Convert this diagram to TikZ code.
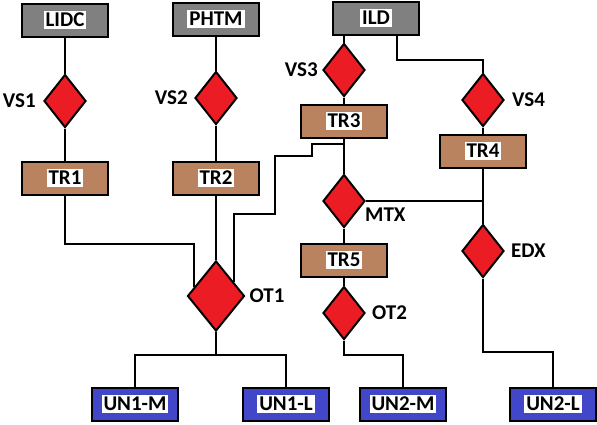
\documentclass[tikz,border=0pt]{standalone}
\usepackage{fontspec}
\setmainfont{Carlito}
\usetikzlibrary{positioning, shapes.geometric, calc}

\definecolor{srcgray}{RGB}{128,128,128}
\definecolor{trbrown}{RGB}{185,131,96}
\definecolor{unblue}{RGB}{66,70,200}
\definecolor{vsred}{RGB}{236,28,36}
\setlength{\fboxsep}{2pt}
\newcommand{\wbox}[1]{\colorbox{white}{#1}}

\begin{document}
\begin{tikzpicture}[x=1pt, y=-1pt,
	box/.style={rectangle, draw, line width=2pt, minimum width=86pt, minimum height=33pt, inner sep=0pt, font=\bfseries\fontsize{21}{23}\selectfont},
	src/.style={box, fill=srcgray},
	tr/.style={box, fill=trbrown},
	un/.style={box, fill=unblue},
	d/.style={diamond, draw, line width=2pt, fill=vsred, minimum width=42pt, minimum height=53pt, inner sep=0pt},
	big/.style={d, minimum width=57pt, minimum height=70pt},
	t/.style={font=\bfseries\fontsize{21}{23}\selectfont, inner sep=0pt},
	w/.style={line width=2pt}]
	\useasboundingbox (0,0) rectangle (597,424);

	\node[src] (lidc) at (65,20) {\wbox{LIDC}};
	\node[src] (phtm) at (216,19) {\wbox{PHTM}};
	\node[src] (ild) at (376,18) {\wbox{ILD}};
	\node[d] (vs1) at (65,101) {};
	\node[d] (vs2) at (216,98) {};
	\node[d] (vs3) at (344,70) {};
	\node[d] (vs4) at (483,100) {};
	\node[tr] (tr1) at (65,178) {\wbox{TR1}};
	\node[tr] (tr2) at (216,178) {\wbox{TR2}};
	\node[tr] (tr3) at (344,121) {\wbox{TR3}};
	\node[tr] (tr4) at (483,151) {\wbox{TR4}};
	\node[d] (mtx) at (344,201) {};
	\node[tr] (tr5) at (344,260) {\wbox{TR5}};
	\node[d] (ot2) at (344,313) {};
	\node[d] (edx) at (483,251) {};
	\node[big] (ot1) at (216,296) {};
	\node[un] (un1m) at (135,404) {\wbox{UN1-M}};
	\node[un] (un1l) at (286,404) {\wbox{UN1-L}};
	\node[un] (un2m) at (403,404) {\wbox{UN2-M}};
	\node[un] (un2l) at (553,404) {\wbox{UN2-L}};

	\node[t, left=7pt of vs1] (vs1l) {VS1};
	\node[t, left=6pt of vs2] (vs2l) {VS2};
	\node[t, left=4pt of vs3] (vs3l) {VS3};
	\node[t, right=7pt of vs4] (vs4l) {VS4};
	\node[t, right=10pt of mtx.south east] (mtxl) {MTX};
	\node[t, right=4pt of ot1] (ot1l) {OT1};
	\node[t, right=6pt of ot2] (ot2l) {OT2};
	\node[t, right=6pt of edx] (edxl) {EDX};

	\draw[w] (lidc) -- (vs1) -- (tr1);
	\draw[w] (phtm) -- (vs2) -- (tr2) -- (ot1);
	\draw[w] (ild.south -| vs3) -- (vs3) -- (tr3) -- (mtx) -- (tr5) -- (ot2);
	\draw[w] ([xshift=21pt]ild.south) -- ++(0,24) -| (vs4.north);
	\draw[w] (vs4) -- (tr4) -- (edx);
	\draw[w] (mtx.east) -- (mtx.east -| tr4);
	\draw[w] (edx.south) -- ++(0,73) -| (un2l.north);
	\draw[w] (ot2.south) -- ++(0,14) -| (un2m.north);
	\draw[w] (tr1.south) -- ++(0,48) -| ($(ot1.west)!0.24!(ot1.north)$);
	\draw[w] (tr3.south) -- ++(0,5) -| ++(-32,12) -| ++(-37,58) -| ($(ot1.north)!0.62!(ot1.east)$);
	\draw[w] (ot1.south) -- ++(0,23) coordinate (fork);
	\draw[w] (un1m.north) |- (fork) -| (un1l.north);
\end{tikzpicture}
\end{document}
